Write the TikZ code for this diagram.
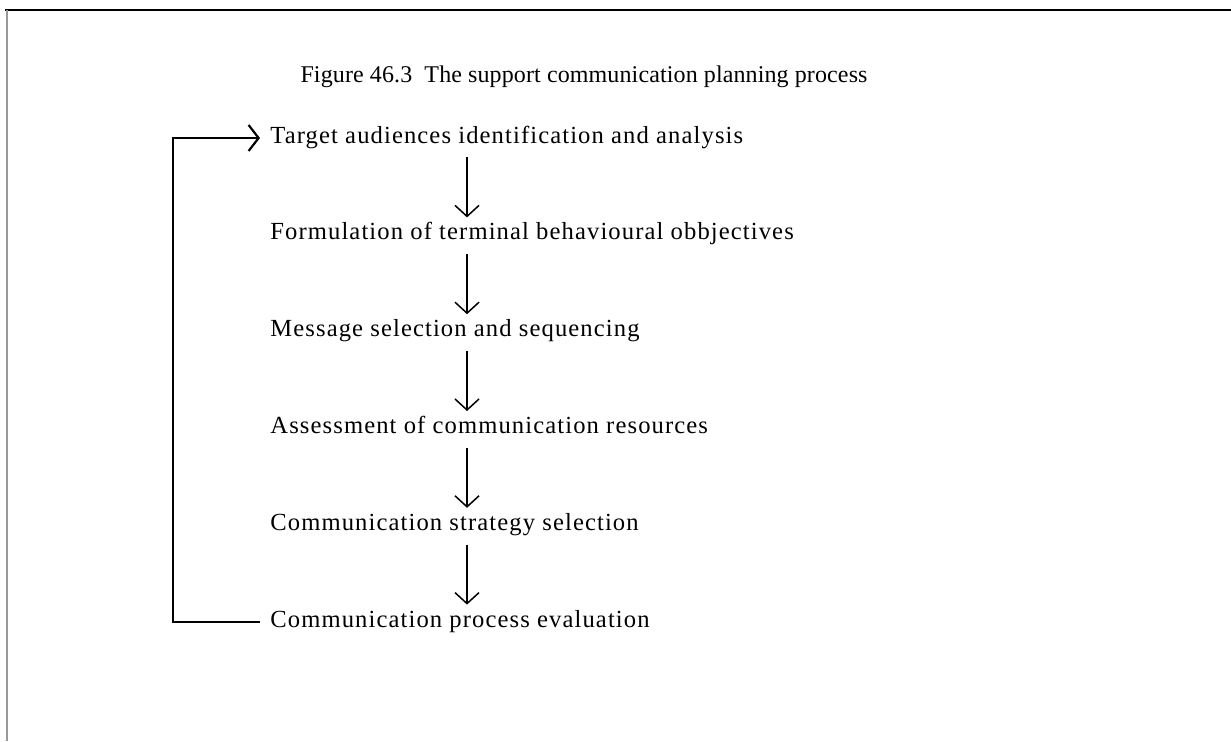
\documentclass[tikz,border=0pt]{standalone}
\usepackage{fontspec}
\setmainfont{Liberation Serif}[LetterSpace=4.5]
\newfontfamily\titlefont{Liberation Serif}[LetterSpace=0.5]
\usetikzlibrary{arrows.meta}
\begin{document}
\begin{tikzpicture}[x=0.5pt,y=-0.5pt,
  txt/.style={inner sep=0pt, font=\fontsize{12.3}{14}\selectfont, text height=0.7em, text depth=0.2em},
  stepnode/.style={txt, anchor=west},
  titlenode/.style={txt, font=\titlefont\fontsize{12}{14}\selectfont},
  flow/.style={-{Straight Barb[length=5.5pt,width=12pt,line width=0.75pt]}, line width=0.75pt, shorten <=5pt, shorten >=4pt},
  back/.style={-{Straight Barb[length=5pt,width=13pt,line width=1.1pt]}, line width=1.1pt}
]
\useasboundingbox (0,0) rectangle (1231,741);
\fill[white] (0,0) rectangle (1231,741);
\draw[line width=1pt] (5,10) -- (1231,10);
\draw[black!40, line width=1pt] (7,10) -- (7,741);
\node[titlenode] (title) at (584,77) {Figure 46.3\ \ The support communication planning process};
\node[stepnode] (t1) at (270,138) {Target audiences identification and analysis};
\node[stepnode] (t2) at (270,234.8) {Formulation of terminal behavioural obbjectives};
\node[stepnode] (t3) at (270,331.6) {Message selection and sequencing};
\node[stepnode] (t4) at (270,428.4) {Assessment of communication resources};
\node[stepnode] (t5) at (270,525.2) {Communication strategy selection};
\node[stepnode] (t6) at (270,622) {Communication process evaluation};
\coordinate (ax) at (467,0);
\coordinate (lc) at (173,0);
\draw[flow] (t1.south -| ax) -- (t2.north -| ax);
\draw[flow] (t2.south -| ax) -- (t3.north -| ax);
\draw[flow] (t3.south -| ax) -- (t4.north -| ax);
\draw[flow] (t4.south -| ax) -- (t5.north -| ax);
\draw[flow] (t5.south -| ax) -- (t6.north -| ax);
\draw[back, shorten <=5pt, shorten >=5pt] (t6.west) -- (t6.west -| lc) |- (t1.west);
\end{tikzpicture}
\end{document}
